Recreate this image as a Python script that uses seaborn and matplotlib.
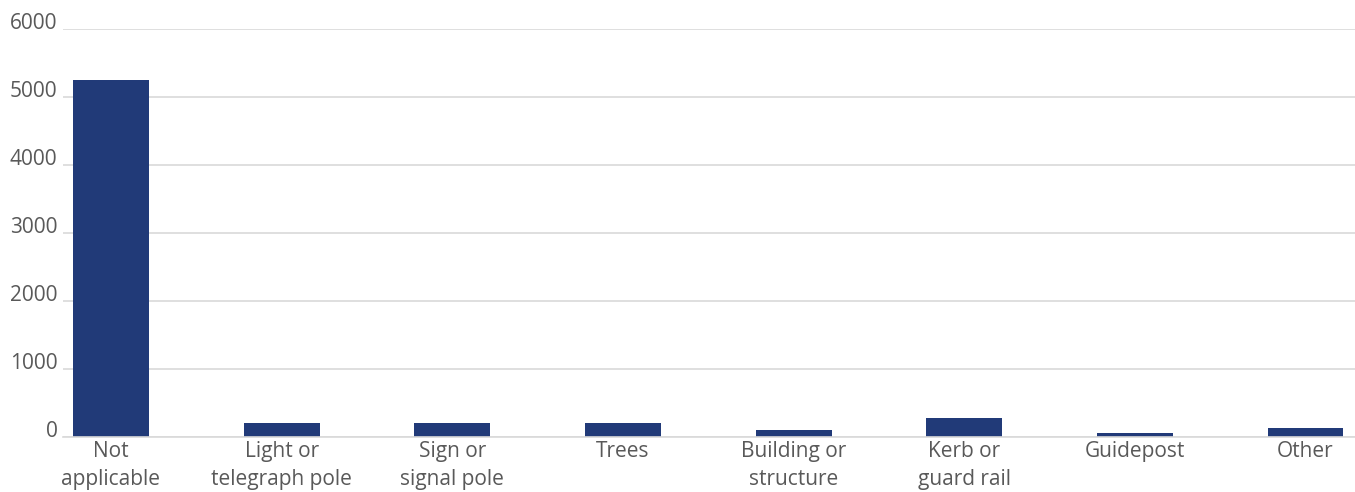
import matplotlib
matplotlib.use("Agg")
import matplotlib.pyplot as plt
import seaborn as sns

categories = ["Not\napplicable", "Light or\ntelegraph pole", "Sign or\nsignal pole", "Trees",
              "Building or\nstructure", "Kerb or\nguard rail", "Guidepost", "Other"]
counts = [5250, 205, 205, 205, 100, 280, 60, 130]
y_ticks = [0, 1000, 2000, 3000, 4000, 5000, 6000]

sns.set_theme(style="white")
plt.rcParams["font.family"] = ["Open Sans", "DejaVu Sans"]

BAR = "#213A78"
TEXT = "#595959"
GRID = "#D9D9D9"

fig = plt.figure(figsize=(13.55, 4.92), dpi=100)
ax = fig.add_axes([63 / 1355, 1 - 437 / 492, (1355 - 63) / 1355, (437 - 29) / 492])

sns.barplot(x=categories, y=counts, color=BAR, width=0.445, saturation=1,
            edgecolor=BAR, linewidth=0, ax=ax)

ax.set_ylim(0, 6000)
ax.set_xlim(-0.281, 7.29)
ax.set_yticks(y_ticks)
ax.set_yticklabels([str(v) for v in y_ticks])
ax.yaxis.grid(True, color=GRID, linewidth=1.2)
ax.set_axisbelow(True)

for side in ["top", "right", "left"]:
    ax.spines[side].set_visible(False)
ax.spines["bottom"].set_color(GRID)
ax.spines["bottom"].set_linewidth(1.2)

ax.tick_params(axis="y", length=0, pad=4, labelsize=15, labelcolor=TEXT)
ax.tick_params(axis="x", length=0, pad=3, labelsize=15, labelcolor=TEXT)
for lab in ax.get_yticklabels():
    lab.set_verticalalignment("baseline")
for lab in ax.get_xticklabels():
    lab.set_linespacing(1.45)

ax.set_xlabel("")
ax.set_ylabel("")

fig.savefig("out.png", dpi=100)
